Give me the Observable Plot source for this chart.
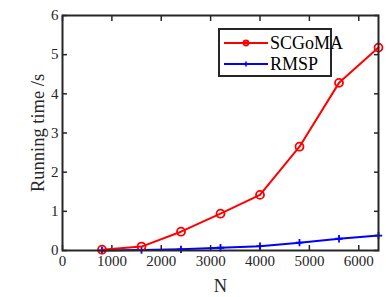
<!DOCTYPE html>
<html><head><meta charset="utf-8">
<script src="https://cdn.jsdelivr.net/npm/d3@7"></script>
<script src="https://cdn.jsdelivr.net/npm/@observablehq/plot@0.6"></script>
<style>
body{margin:0;background:#fff;}
#wrap{position:relative;width:386px;height:297px;}
#legend{position:absolute;left:218px;top:28px;width:114px;height:49px;border:2px solid #262626;background:#fff;box-sizing:border-box;font-family:"Liberation Serif",serif;font-size:18px;color:#000;}
#legend div{position:absolute;left:0;height:22px;display:flex;align-items:center;}
</style>
</head><body>
<div id="wrap"><div id="chart"></div><div id="legend"></div></div>
<script>
const N = [800, 1600, 2400, 3200, 4000, 4800, 5600, 6400];
const scgoma = [0.02, 0.10, 0.48, 0.94, 1.42, 2.65, 4.28, 5.18];
const rmsp = [0.00, 0.01, 0.03, 0.07, 0.11, 0.20, 0.30, 0.38];
const xTicks = [0, 1000, 2000, 3000, 4000, 5000, 6000];
const yTicks = [0, 1, 2, 3, 4, 5, 6];
const seriesNames = ["SCGoMA", "RMSP"];
const colors = ["#ff0000", "#0000ff"];

const s1 = N.map((n, i) => ({N: n, t: scgoma[i]}));
const s2 = N.map((n, i) => ({N: n, t: rmsp[i]}));
const ax = "#262626";
const blank = () => "";

const plot = Plot.plot({
  width: 386, height: 297,
  marginLeft: 62, marginRight: 8, marginTop: 15, marginBottom: 47,
  style: {fontFamily: "'Liberation Serif', serif", fontSize: "15px", color: ax, background: "#fff"},
  x: {domain: [0, 6400]},
  y: {domain: [0, 6]},
  marks: [
    Plot.axisX({ticks: xTicks, tickSize: -5, tickPadding: 10, tickFormat: d => String(d), label: null, stroke: ax, strokeWidth: 1.5, fill: ax}),
    Plot.axisX({ticks: xTicks, anchor: "top", tickSize: -5, tickFormat: blank, label: null, stroke: ax, strokeWidth: 1.5}),
    Plot.axisY({ticks: yTicks, tickSize: -5, tickPadding: 9, tickFormat: d => String(d), label: null, stroke: ax, strokeWidth: 1.5, fill: ax}),
    Plot.axisY({ticks: yTicks, anchor: "right", tickSize: -5, tickFormat: blank, label: null, stroke: ax, strokeWidth: 1.5}),
    Plot.line(s2, {x: "N", y: "t", stroke: colors[1], strokeWidth: 2}),
    Plot.dot(s2, {x: "N", y: "t", symbol: "plus", r: 2.5, stroke: colors[1], strokeWidth: 1.8}),
    Plot.line(s1, {x: "N", y: "t", stroke: colors[0], strokeWidth: 2}),
    Plot.dot(s1, {x: "N", y: "t", r: 4, stroke: colors[0], strokeWidth: 1.8, fill: "none"}),
    Plot.frame({stroke: ax, strokeWidth: 2}),
    Plot.text(["N"], {frameAnchor: "bottom", dy: 41, fontSize: 18.5, fill: ax}),
    Plot.text(["Running time /s"], {frameAnchor: "left", textAnchor: "middle", dx: -24, rotate: -90, fontSize: 18.5, fill: ax})
  ]
});
document.getElementById("chart").appendChild(plot);

const leg = document.getElementById("legend");
seriesNames.forEach((name, i) => {
  const row = document.createElement("div");
  row.style.top = (i === 0 ? 2 : 23) + "px";
  const marker = i === 0
    ? `<circle cx="22" cy="7" r="2.5" fill="none" stroke="${colors[i]}" stroke-width="1.8"/>`
    : `<path d="M19.5 7h5M22 4.5v5" stroke="${colors[i]}" stroke-width="1.6"/>`;
  row.innerHTML = `<svg width="46" height="14" style="margin-left:4px"><line x1="0" x2="44" y1="7" y2="7" stroke="${colors[i]}" stroke-width="2"/>${marker}</svg><span>${name}</span>`;
  leg.appendChild(row);
});
</script>
</body></html>
